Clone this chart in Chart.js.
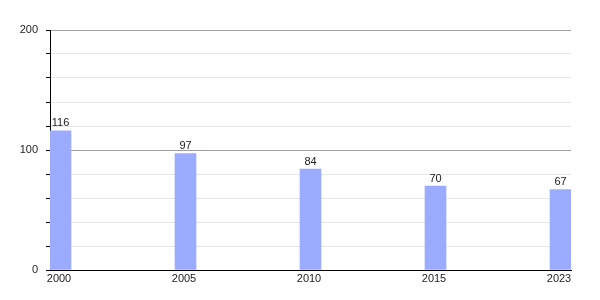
<!DOCTYPE html>
<html>
<head>
<meta charset="utf-8">
<script src="https://cdn.jsdelivr.net/npm/chart.js@4"></script>
<style>
  html, body { margin: 0; padding: 0; background: #fff; }
  #wrap { width: 600px; height: 300px; }
</style>
</head>
<body>
<div id="wrap"><canvas id="c" width="600" height="300"></canvas></div>
<script>
const categories = ['2000', '2005', '2010', '2015', '2023'];
const values = [116, 97, 84, 70, 67];
const yMin = 0;
const yMax = 200;
const yStep = 20;
const yLabelEvery = 100;

const points = categories.map((c, i) => ({ x: i, y: values[i] }));

const valueLabels = {
  id: 'valueLabels',
  afterDatasetsDraw(chart) {
    const ctx = chart.ctx;
    const meta = chart.getDatasetMeta(0);
    ctx.save();
    ctx.font = '11px "Liberation Sans", Arial, sans-serif';
    ctx.fillStyle = '#222';
    ctx.textAlign = 'center';
    ctx.textBaseline = 'bottom';
    meta.data.forEach((bar, i) => {
      ctx.fillText(String(values[i]), bar.x, bar.y - 2);
    });
    ctx.restore();
  }
};

new Chart(document.getElementById('c'), {
  type: 'bar',
  data: {
    datasets: [{
      data: points,
      backgroundColor: 'rgb(155,172,255)',
      borderWidth: 0,
      barThickness: 21
    }]
  },
  options: {
    responsive: false,
    animation: false,
    events: [],
    layout: { padding: { top: 30, right: 29, left: 0, bottom: 0 } },
    plugins: { legend: { display: false }, tooltip: { enabled: false } },
    scales: {
      x: {
        type: 'linear',
        offset: false,
        min: -0.084,
        max: 4.084,
        afterFit: s => { s.height = 30; },
        grid: { display: false, drawTicks: false, offset: false },
        border: { display: true, color: '#000', width: 1 },
        ticks: {
          stepSize: 1,
          includeBounds: false,
          autoSkip: false,
          maxRotation: 0,
          padding: 2,
          labelOffset: -1.5,
          color: '#222',
          font: { family: '"Liberation Sans", Arial, sans-serif', size: 11 },
          callback: v => (Number.isInteger(v) && categories[v] !== undefined) ? categories[v] : ''
        }
      },
      y: {
        min: yMin,
        max: yMax,
        afterFit: s => { s.width = 50; },
        grid: {
          color: c => (c.tick && c.tick.value % yLabelEvery === 0) ? '#a0a0a0' : '#e6e6e6',
          tickColor: '#000',
          tickLength: 4,
          drawTicks: true
        },
        border: { display: true, color: '#000', width: 1 },
        ticks: {
          stepSize: yStep,
          autoSkip: false,
          padding: 8,
          color: '#222',
          font: { family: '"Liberation Sans", Arial, sans-serif', size: 11 },
          callback: v => (v % yLabelEvery === 0) ? String(v) : ''
        }
      }
    }
  },
  plugins: [valueLabels]
});
</script>
</body>
</html>
